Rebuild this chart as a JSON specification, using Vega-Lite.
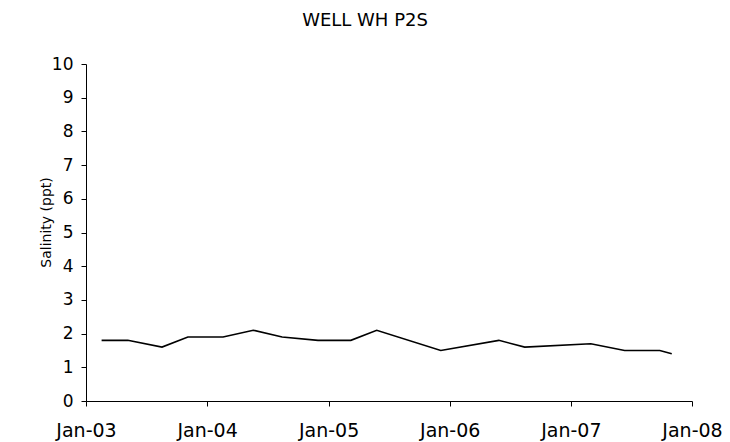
{
  "$schema": "https://vega.github.io/schema/vega-lite/v6.json",
  "width": 606,
  "height": 337,
  "autosize": "none",
  "padding": {"left": 86, "top": 64, "right": 38, "bottom": 41},
  "background": "white",
  "config": {
    "view": {"stroke": null},
    "font": "DejaVu Sans"
  },
  "title": {
    "text": "WELL WH P2S",
    "fontSize": 18,
    "fontWeight": "normal",
    "font": "DejaVu Sans",
    "color": "black",
    "anchor": "middle",
    "dx": -24,
    "offset": 25
  },
  "data": {
    "values": [
      {"date": "2003-02-17", "salinity": 1.8},
      {"date": "2003-05-07", "salinity": 1.8},
      {"date": "2003-08-18", "salinity": 1.6},
      {"date": "2003-11-04", "salinity": 1.9},
      {"date": "2004-02-18", "salinity": 1.9},
      {"date": "2004-05-19", "salinity": 2.1},
      {"date": "2004-08-14", "salinity": 1.9},
      {"date": "2004-11-30", "salinity": 1.8},
      {"date": "2005-03-09", "salinity": 1.8},
      {"date": "2005-05-26", "salinity": 2.1},
      {"date": "2005-12-05", "salinity": 1.5},
      {"date": "2006-05-29", "salinity": 1.8},
      {"date": "2006-08-15", "salinity": 1.6},
      {"date": "2007-03-02", "salinity": 1.7},
      {"date": "2007-06-12", "salinity": 1.5},
      {"date": "2007-09-26", "salinity": 1.5},
      {"date": "2007-11-01", "salinity": 1.4}
    ]
  },
  "mark": {"type": "line", "color": "black", "strokeWidth": 1.6},
  "encoding": {
    "x": {
      "field": "date",
      "type": "temporal",
      "scale": {"domain": [{"year": 2003, "month": 1, "date": 1}, {"year": 2008, "month": 1, "date": 1}]},
      "axis": {
        "title": null,
        "format": "%b-%y",
        "values": [
          {"year": 2003, "month": 1, "date": 1},
          {"year": 2004, "month": 1, "date": 1},
          {"year": 2005, "month": 1, "date": 1},
          {"year": 2006, "month": 1, "date": 1},
          {"year": 2007, "month": 1, "date": 1},
          {"year": 2008, "month": 1, "date": 1}
        ],
        "grid": false,
        "domainColor": "black",
        "tickColor": "black",
        "tickSize": 5,
        "labelFontSize": 19,
        "labelColor": "black",
        "labelPadding": 15,
        "labelFlush": false
      }
    },
    "y": {
      "field": "salinity",
      "type": "quantitative",
      "scale": {"domain": [0, 10]},
      "axis": {
        "title": "Salinity (ppt)",
        "titleFontSize": 14,
        "titleFontWeight": "normal",
        "titleColor": "black",
        "titleX": -40,
        "titleY": 158,
        "titleBaseline": "middle",
        "titleAlign": "center",
        "titleAngle": 270,
        "values": [0, 1, 2, 3, 4, 5, 6, 7, 8, 9, 10],
        "grid": false,
        "domainColor": "black",
        "tickColor": "black",
        "tickSize": 5,
        "labelFontSize": 17,
        "labelColor": "black",
        "labelPadding": 8
      }
    }
  }
}
